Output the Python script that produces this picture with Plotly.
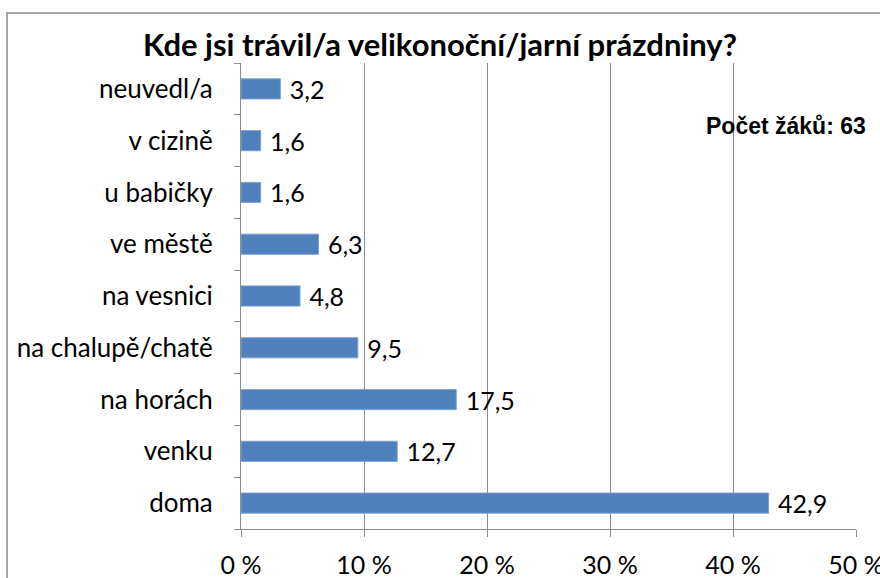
import plotly.graph_objects as go

categories = ["doma", "venku", "na horách", "na chalupě/chatě", "na vesnici",
              "ve městě", "u babičky", "v cizině", "neuvedl/a"]
values = [42.9, 12.7, 17.5, 9.5, 4.8, 6.3, 1.6, 1.6, 3.2]
tick_vals = [0, 10, 20, 30, 40, 50]
tick_text = ["0 %", "10 %", "20 %", "30 %", "40 %", "50 %"]
title_text = "Kde jsi trávil/a velikonoční/jarní prázdniny?"
note_text = "Počet žáků: 63"

W, H = 880, 578
FONT = "Lato"

labels = [" " + f"{v:.1f}".replace(".", ",") for v in values]

fig = go.Figure(go.Bar(
    y=categories, x=values, orientation="h",
    marker=dict(color="#4F81BD", line=dict(color="#7FA3D3", width=1)),
    text=labels, textposition="outside", cliponaxis=False,
    constraintext="none",
    textfont=dict(family=FONT, size=25, color="#000000"),
    width=0.39,
))

fig.update_layout(
    width=W, height=H,
    margin=dict(l=0, r=0, t=0, b=0, autoexpand=False),
    paper_bgcolor="white", plot_bgcolor="white",
    showlegend=False,
    title=dict(text=f"<b>{title_text}</b>", x=0.5, xanchor="center",
               y=1 - 45 / H, yanchor="middle",
               font=dict(family=FONT, size=31, color="#000000")),
    xaxis=dict(domain=[241 / W, 856 / W], range=[0, 50],
               tickvals=tick_vals, ticktext=tick_text,
               ticklabeloverflow="allow",
               showgrid=True, gridcolor="#8C8C8C", gridwidth=1,
               showline=True, linecolor="#8C8C8C", linewidth=1,
               ticks="outside", ticklen=7, tickcolor="#8C8C8C",
               ticklabelstandoff=7,
               tickfont=dict(family=FONT, size=25, color="#000000"),
               zeroline=False, fixedrange=True),
    yaxis=dict(domain=[(H - 529) / H, (H - 63) / H],
               categoryorder="array", categoryarray=categories,
               showline=True, linecolor="#8C8C8C", linewidth=1,
               ticks="outside", ticklen=6, tickcolor="#8C8C8C",
               tickson="boundaries", ticklabelstandoff=22,
               showgrid=False,
               tickfont=dict(family=FONT, size=26, color="#000000"),
               fixedrange=True),
    shapes=[dict(type="rect", xref="paper", yref="paper",
                 x0=7 / W, x1=1.01, y0=-0.01, y1=1 - 13 / H,
                 line=dict(color="#8C8C8C", width=1.5))],
    annotations=[dict(text=f"<b>{note_text}</b>", xref="paper", yref="paper",
                      x=868 / W, y=1 - 126 / H, xanchor="right", yanchor="middle",
                      showarrow=False,
                      font=dict(family="Liberation Sans", size=23, color="#000000"))],
)

fig.write_html("out.html", config={"displayModeBar": False},
               post_script="document.body.style.margin='0';document.body.style.padding='0';")
